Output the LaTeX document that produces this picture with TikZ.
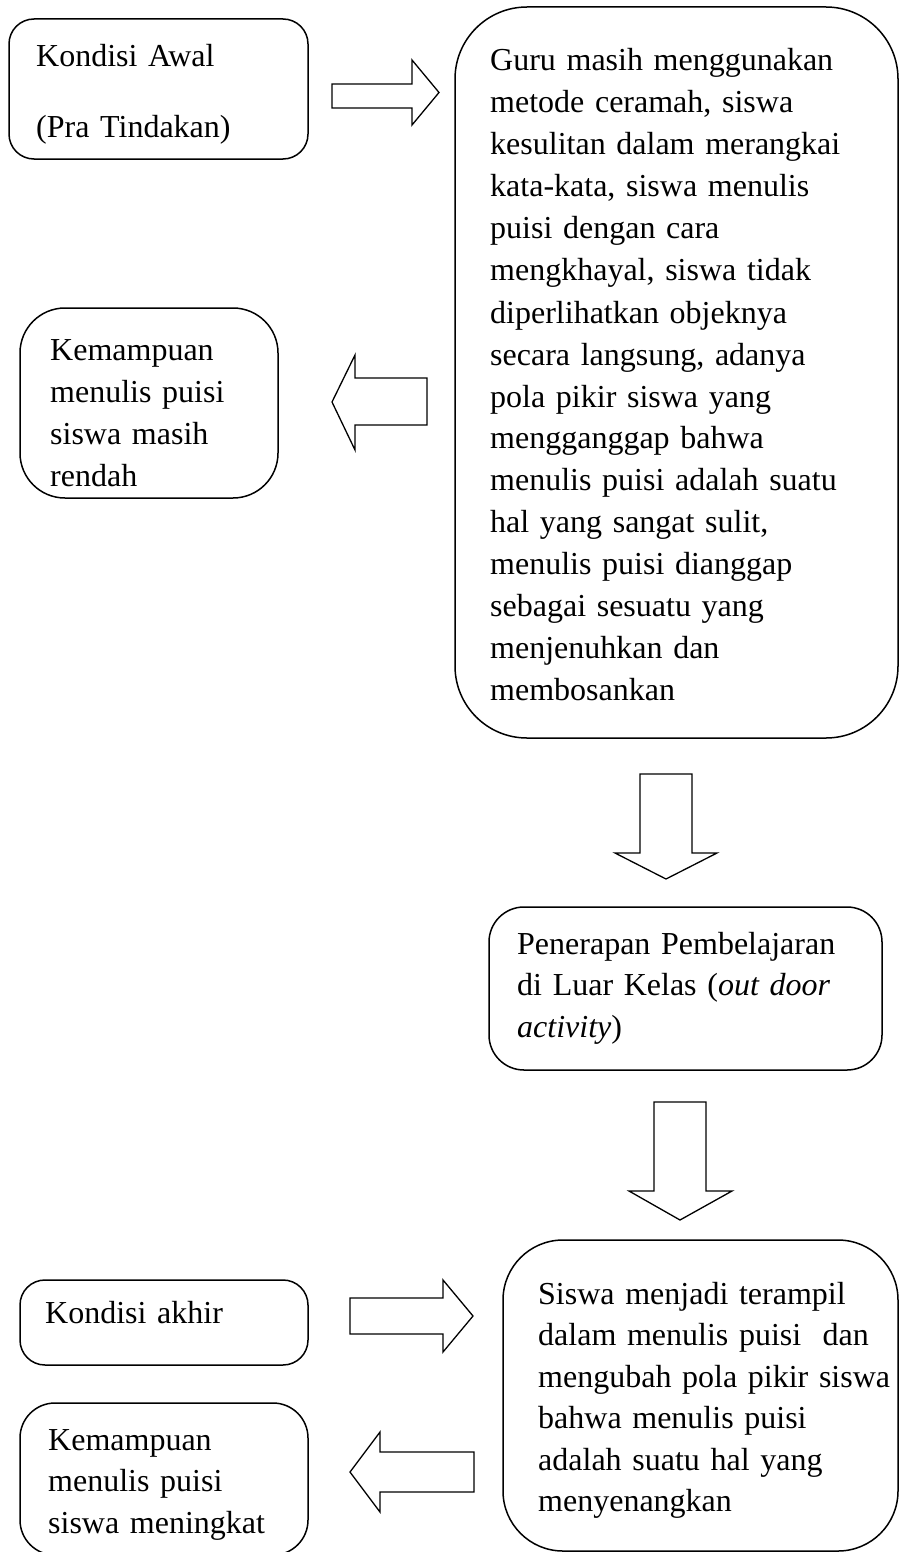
\documentclass[tikz,border=0pt]{standalone}
\usepackage{fontspec}
\setmainfont{Liberation Serif}
\tikzset{
  box/.style={draw, line width=1.5pt, rectangle, inner sep=0pt},
  txt/.style={anchor=base west, inner sep=0pt, text width=420pt, align=left,
    font=\fontsize{32}{42}\selectfont},
  txtb/.style={txt, font=\fontsize{32}{41.5}\selectfont},
  blockarrow/.style={draw, line width=1.3pt, fill=white, line join=miter}
}
\begin{document}
\begin{tikzpicture}[x=1pt,y=-1pt]
\useasboundingbox (0,0) rectangle (900,1552);
% boxes
\node[box, rounded corners=25pt, minimum width=299pt, minimum height=140pt] (b1) at (158.5,89) {};
\node[box, rounded corners=72pt, minimum width=443pt, minimum height=731pt] (b2) at (676.5,372.5) {};
\node[box, rounded corners=45pt, minimum width=258pt, minimum height=190pt] (b3) at (149,403) {};
\node[box, rounded corners=35pt, minimum width=393pt, minimum height=163pt] (b4) at (685.5,988.5) {};
\node[box, rounded corners=60pt, minimum width=395pt, minimum height=311pt] (b5) at (700.5,1395.5) {};
\node[box, rounded corners=25pt, minimum width=288pt, minimum height=85pt] (b6) at (164,1322.5) {};
\node[box, rounded corners=35pt, minimum width=288pt, minimum height=152pt] (b7) at (164,1479) {};
% texts
\node[txt] (t1a) at (36,67) {Kondisi Awal};
\node[txt] (t1b) at (36,138) {(Pra Tindakan)};
\node[txt] (t2) at (490,71) {Guru masih menggunakan\\
metode ceramah, siswa\\
kesulitan dalam merangkai\\
kata-kata, siswa menulis\\
puisi dengan cara\\
mengkhayal, siswa tidak\\
diperlihatkan objeknya\\
secara langsung, adanya\\
pola pikir siswa yang\\
mengganggap bahwa\\
menulis puisi adalah suatu\\
hal yang sangat sulit,\\
menulis puisi dianggap\\
sebagai sesuatu yang\\
menjenuhkan dan\\
membosankan};
\node[txt] (t3) at (50,360) {Kemampuan\\ menulis puisi\\ siswa masih\\ rendah};
\node[txtb] (t4) at (517,954) {Penerapan Pembelajaran\\ di Luar Kelas (\textit{out door}\\ \textit{activity})};
\node[txtb] (t5) at (538,1304) {Siswa menjadi terampil\\ dalam menulis puisi\ \ dan\\ mengubah pola pikir siswa\\ bahwa menulis puisi\\ adalah suatu hal yang\\ menyenangkan};
\node[txt] (t6) at (45,1323) {Kondisi akhir};
\node[txtb] (t7) at (48,1450) {Kemampuan\\ menulis puisi\\ siswa meningkat};
% block arrows
\draw[blockarrow] (332,84) -- (412,84) -- (412,60) -- (439,92.5) -- (412,125) -- (412,108) -- (332,108) -- cycle;
\draw[blockarrow] (427,378) -- (355,378) -- (355,355) -- (332,402) -- (355,450) -- (355,425) -- (427,425) -- cycle;
\draw[blockarrow] (640,774) -- (692,774) -- (692,853) -- (717,853) -- (666,879) -- (615,853) -- (640,853) -- cycle;
\draw[blockarrow] (654,1102) -- (706,1102) -- (706,1191) -- (732,1191) -- (680,1220) -- (629,1191) -- (654,1191) -- cycle;
\draw[blockarrow] (350,1298) -- (443,1298) -- (443,1280) -- (473,1316) -- (443,1352) -- (443,1334) -- (350,1334) -- cycle;
\draw[blockarrow] (474,1452) -- (380,1452) -- (380,1432) -- (350,1472) -- (380,1512) -- (380,1492) -- (474,1492) -- cycle;
\end{tikzpicture}
\end{document}
